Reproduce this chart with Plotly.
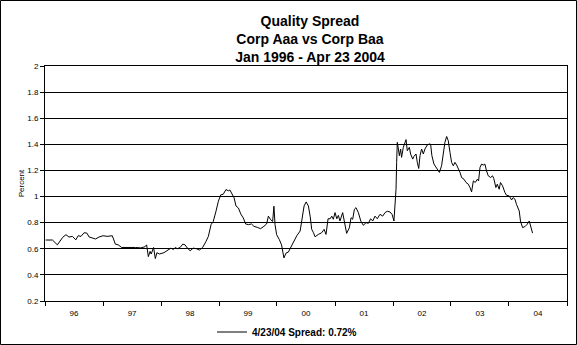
import plotly.graph_objects as go

# --- data ---
dates = [
    "1996-01-05", "1996-02-17", "1996-03-19", "1996-04-06", "1996-04-21", "1996-05-12",
    "1996-05-31", "1996-06-22", "1996-07-13", "1996-07-28", "1996-08-15", "1996-09-03",
    "1996-09-21", "1996-10-05", "1996-10-27", "1996-11-15", "1996-12-06", "1997-01-01",
    "1997-01-27", "1997-02-28", "1997-03-19", "1997-04-06", "1997-04-28", "1997-05-23",
    "1997-06-25", "1997-07-24", "1997-08-26", "1997-09-21", "1997-10-02", "1997-10-13",
    "1997-10-24", "1997-10-31", "1997-11-15", "1997-11-26", "1997-12-06", "1997-12-21",
    "1998-01-19", "1998-02-10", "1998-03-04", "1998-03-19", "1998-04-02", "1998-04-13",
    "1998-05-01", "1998-05-18", "1998-06-01", "1998-06-16", "1998-07-03", "1998-07-23",
    "1998-08-13", "1998-08-30", "1998-09-20", "1998-10-11", "1998-10-26", "1998-11-12",
    "1998-11-26", "1998-12-13", "1998-12-28", "1999-01-12", "1999-01-28", "1999-02-14",
    "1999-03-01", "1999-03-11", "1999-03-22", "1999-04-06", "1999-04-18", "1999-05-03",
    "1999-05-18", "1999-06-03", "1999-06-18", "1999-07-05", "1999-07-25", "1999-08-09",
    "1999-08-30", "1999-09-20", "1999-10-11", "1999-10-28", "1999-11-08", "1999-11-22",
    "1999-12-05", "1999-12-13", "1999-12-20", "1999-12-30", "2000-01-16", "2000-01-30",
    "2000-02-14", "2000-02-27", "2000-03-13", "2000-03-28", "2000-04-14", "2000-05-05",
    "2000-05-26", "2000-06-05", "2000-06-20", "2000-07-03", "2000-07-17", "2000-07-28",
    "2000-08-07", "2000-08-18", "2000-08-28", "2000-09-18", "2000-10-09", "2000-10-24",
    "2000-11-05", "2000-11-18", "2000-12-01", "2000-12-11", "2000-12-21", "2001-01-01",
    "2001-01-12", "2001-01-22", "2001-02-01", "2001-02-18", "2001-03-01", "2001-03-15",
    "2001-04-01", "2001-04-12", "2001-04-22", "2001-05-03", "2001-05-13", "2001-05-28",
    "2001-06-12", "2001-06-28", "2001-07-15", "2001-07-30", "2001-08-13", "2001-08-26",
    "2001-09-10", "2001-09-24", "2001-10-11", "2001-10-28", "2001-11-12", "2001-11-26",
    "2001-12-13", "2001-12-26", "2002-01-07", "2002-01-13", "2002-01-20", "2002-01-24",
    "2002-01-28", "2002-02-04", "2002-02-10", "2002-02-18", "2002-02-24", "2002-03-07",
    "2002-03-18", "2002-03-24", "2002-04-01", "2002-04-14", "2002-04-22", "2002-05-05",
    "2002-05-13", "2002-05-26", "2002-06-03", "2002-06-12", "2002-06-20", "2002-06-30",
    "2002-07-11", "2002-07-21", "2002-08-05", "2002-08-18", "2002-08-26", "2002-09-03",
    "2002-09-16", "2002-09-28", "2002-10-07", "2002-10-20", "2002-11-03", "2002-11-14",
    "2002-11-24", "2002-12-05", "2002-12-15", "2002-12-26", "2003-01-05", "2003-01-16",
    "2003-01-26", "2003-02-06", "2003-02-16", "2003-02-27", "2003-03-09", "2003-03-24",
    "2003-04-06", "2003-04-20", "2003-05-01", "2003-05-11", "2003-05-22", "2003-06-03",
    "2003-06-16", "2003-06-24", "2003-07-03", "2003-07-13", "2003-07-23", "2003-08-03",
    "2003-08-13", "2003-08-24", "2003-09-08", "2003-09-20", "2003-09-28", "2003-10-11",
    "2003-10-20", "2003-11-01", "2003-11-09", "2003-11-22", "2003-12-07", "2003-12-17",
    "2004-01-03", "2004-01-18", "2004-01-28", "2004-02-08", "2004-02-18", "2004-03-06",
    "2004-03-14", "2004-03-27", "2004-04-11", "2004-04-25", "2004-05-08", "2004-05-17",
    "2004-05-29",
]
spread = [
    0.667, 0.667, 0.630, 0.660, 0.687, 0.708,
    0.690, 0.695, 0.668, 0.700, 0.695, 0.723,
    0.720, 0.690, 0.685, 0.675, 0.690, 0.700,
    0.695, 0.700, 0.636, 0.630, 0.610, 0.610,
    0.614, 0.610, 0.607, 0.615, 0.630, 0.540,
    0.580, 0.560, 0.610, 0.525, 0.570, 0.560,
    0.570, 0.590, 0.605, 0.595, 0.610, 0.600,
    0.610, 0.636, 0.630, 0.605, 0.585, 0.605,
    0.600, 0.590, 0.610, 0.656, 0.695, 0.785,
    0.810, 0.887, 0.964, 1.013, 1.018, 1.054,
    1.044, 1.050, 1.023, 0.990, 0.928, 0.913,
    0.867, 0.836, 0.790, 0.785, 0.790, 0.772,
    0.764, 0.754, 0.772, 0.790, 0.850, 0.823,
    0.810, 0.926, 0.785, 0.708, 0.670, 0.630,
    0.530, 0.567, 0.575, 0.610, 0.656, 0.700,
    0.736, 0.826, 0.928, 0.959, 0.928, 0.850,
    0.749, 0.723, 0.692, 0.710, 0.723, 0.749,
    0.710, 0.830, 0.830, 0.850, 0.826, 0.877,
    0.830, 0.856, 0.813, 0.877, 0.800, 0.718,
    0.760, 0.838, 0.826, 0.903, 0.915, 0.877,
    0.813, 0.780, 0.800, 0.795, 0.830, 0.813,
    0.850, 0.830, 0.864, 0.850, 0.877, 0.887,
    0.882, 0.864, 0.813, 0.900, 1.056, 1.260,
    1.415, 1.364, 1.313, 1.364, 1.300, 1.377,
    1.415, 1.436, 1.351, 1.377, 1.326, 1.287,
    1.308, 1.326, 1.262, 1.215, 1.313, 1.364,
    1.326, 1.364, 1.395, 1.403, 1.400, 1.313,
    1.249, 1.223, 1.215, 1.185, 1.236, 1.326,
    1.415, 1.460, 1.428, 1.338, 1.262, 1.236,
    1.262, 1.241, 1.215, 1.185, 1.146, 1.133,
    1.108, 1.095, 1.069, 1.036, 1.120, 1.108,
    1.133, 1.120, 1.223, 1.249, 1.241, 1.249,
    1.197, 1.159, 1.146, 1.159, 1.138, 1.069,
    1.095, 1.056, 1.108, 1.082, 1.031, 1.010,
    1.005, 0.974, 0.992, 0.980, 0.940, 0.890,
    0.813, 0.762, 0.770, 0.787, 0.813, 0.774,
    0.720,
]
series_name = "4/23/04 Spread: 0.72%"
title_lines = ["Quality Spread", "Corp Aaa vs Corp Baa", "Jan 1996 - Apr 23 2004"]
y_title = "Percent"
x_range = ["1996-01-01", "2005-01-01"]
y_range = [0.2, 2.0]

FONT = "Arial, 'Liberation Sans', sans-serif"

fig = go.Figure()
fig.add_trace(go.Scatter(
    x=dates, y=spread, mode="lines", name=series_name,
    line=dict(color="black", width=1),
    showlegend=True,
))

W, H = 577, 345
L, R, T, B = 45, 10, 66, 44
pw, ph = W - L - R, H - T - B

fig.update_layout(
    width=W, height=H,
    margin=dict(l=L, r=R, t=T, b=B, autoexpand=False),
    paper_bgcolor="white", plot_bgcolor="white",
    font=dict(family=FONT, color="black", size=8),
    title=dict(
        text="<br>".join(title_lines),
        x=310 / W, xanchor="center",
        y=1 - 26 / H, yanchor="top", yref="container",
        font=dict(family=FONT, size=14, color="black", weight="bold"),
    ),
    showlegend=True,
    legend=dict(
        orientation="h", x=(287 - L) / pw, xanchor="center",
        y=-(332 - (T + ph)) / ph, yanchor="middle",
        font=dict(family=FONT, size=10, color="black", weight="bold"),
        bgcolor="rgba(0,0,0,0)",
        itemwidth=30,
    ),
    xaxis=dict(
        type="date", range=x_range,
        dtick="M12", tick0="1996-01-01",
        tickformat="%y", ticklabelmode="period",
        ticks="outside", ticklen=4, tickcolor="black", tickwidth=1,
        showline=True, linecolor="black", linewidth=1, mirror=True,
        showgrid=False, zeroline=False,
        tickfont=dict(family=FONT, size=8, color="black"),
    ),
    yaxis=dict(
        range=y_range, dtick=0.2, tick0=0.2,
        ticks="outside", ticklen=4, tickcolor="black", tickwidth=1,
        showline=True, linecolor="black", linewidth=1, mirror=True,
        showgrid=True, gridcolor="black", gridwidth=1, zeroline=False,
        tickfont=dict(family=FONT, size=8, color="black"),
        title=dict(text=y_title, font=dict(family=FONT, size=8, color="black"), standoff=1),
    ),
)

# outer border around the whole picture
fig.add_shape(
    type="rect", xref="paper", yref="paper",
    x0=(0.5 - L) / pw, x1=(W - 0.5 - L) / pw,
    y0=(T + ph - (H - 0.5)) / ph, y1=(T + ph - 0.5) / ph,
    line=dict(color="black", width=1), fillcolor="rgba(0,0,0,0)", layer="below",
)

fig.write_html("out.html")
